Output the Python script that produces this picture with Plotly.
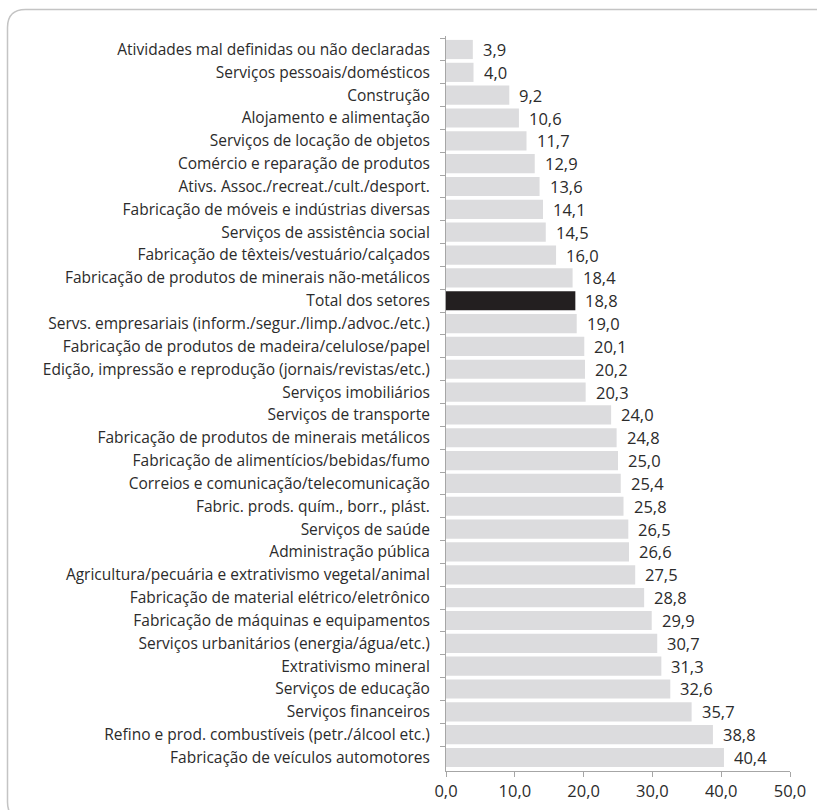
import plotly.graph_objects as go

# Setores de atividade (de cima para baixo) e respectivos valores (%)
setores = [
    "Atividades mal definidas ou não declaradas",
    "Serviços pessoais/domésticos",
    "Construção",
    "Alojamento e alimentação",
    "Serviços de locação de objetos",
    "Comércio e reparação de produtos",
    "Ativs. Assoc./recreat./cult./desport.",
    "Fabricação de móveis e indústrias diversas",
    "Serviços de assistência social",
    "Fabricação de têxteis/vestuário/calçados",
    "Fabricação de produtos de minerais não-metálicos",
    "Total dos setores",
    "Servs. empresariais (inform./segur./limp./advoc./etc.)",
    "Fabricação de produtos de madeira/celulose/papel",
    "Edição, impressão e reprodução (jornais/revistas/etc.)",
    "Serviços imobiliários",
    "Serviços de transporte",
    "Fabricação de produtos de minerais metálicos",
    "Fabricação de alimentícios/bebidas/fumo",
    "Correios e comunicação/telecomunicação",
    "Fabric. prods. quím., borr., plást.",
    "Serviços de saúde",
    "Administração pública",
    "Agricultura/pecuária e extrativismo vegetal/animal",
    "Fabricação de material elétrico/eletrônico",
    "Fabricação de máquinas e equipamentos",
    "Serviços urbanitários (energia/água/etc.)",
    "Extrativismo mineral",
    "Serviços de educação",
    "Serviços financeiros",
    "Refino e prod. combustíveis (petr./álcool etc.)",
    "Fabricação de veículos automotores",
]
valores = [
    3.9, 4.0, 9.2, 10.6, 11.7, 12.9, 13.6, 14.1, 14.5, 16.0, 18.4, 18.8,
    19.0, 20.1, 20.2, 20.3, 24.0, 24.8, 25.0, 25.4, 25.8, 26.5, 26.6, 27.5,
    28.8, 29.9, 30.7, 31.3, 32.6, 35.7, 38.8, 40.4,
]
destaque = "Total dos setores"

x_ticks = [0, 10, 20, 30, 40, 50]

FONT = "Open Sans, Noto Sans, sans-serif"
TXT = "#2b2b2b"
AXIS = "#a6a6a6"
CAT_SIZE = 15.5
NUM_SIZE = 16.5

W, H = 817, 810
ML, MR, MT, MB = 446, 27, 36, 39

cores = ["#231f20" if s == destaque else "#dcdcde" for s in setores]

fig = go.Figure()
fig.add_trace(go.Bar(
    x=valores,
    y=setores,
    orientation="h",
    marker=dict(color=cores, line=dict(width=0)),
    hoverinfo="x+y",
))

# Rótulos de valor à direita de cada barra
for s, v in zip(setores, valores):
    fig.add_annotation(
        x=v, y=s, xref="x", yref="y",
        text=f"{v:.1f}".replace(".", ","),
        showarrow=False, xanchor="left", yanchor="middle",
        xshift=8, font=dict(family=FONT, size=NUM_SIZE, color=TXT),
    )

# Moldura arredondada em volta do gráfico (coordenadas em pixels -> paper)
pw, ph = W - ML - MR, H - MT - MB


def px(xp):
    return (xp - ML) / pw


def py(yp):
    return (H - MB - yp) / ph


left, top, right, bottom, r = 7.5, 9.5, 836, 820, 18
path = (
    f"M {px(left)},{py(bottom - r)} "
    f"L {px(left)},{py(top + r)} "
    f"Q {px(left)},{py(top)} {px(left + r)},{py(top)} "
    f"L {px(right - r)},{py(top)} "
    f"Q {px(right)},{py(top)} {px(right)},{py(top + r)} "
    f"L {px(right)},{py(bottom - r)} "
    f"Q {px(right)},{py(bottom)} {px(right - r)},{py(bottom)} "
    f"L {px(left + r)},{py(bottom)} "
    f"Q {px(left)},{py(bottom)} {px(left)},{py(bottom - r)} Z"
)
fig.add_shape(type="path", path=path, xref="paper", yref="paper",
              line=dict(color="#c4c4c4", width=1.5), layer="below")

fig.update_layout(
    width=W, height=H,
    margin=dict(l=ML, r=MR, t=MT, b=MB, pad=0),
    paper_bgcolor="white", plot_bgcolor="white",
    separators=",.",
    bargap=0.16,
    showlegend=False,
    font=dict(family=FONT, size=CAT_SIZE, color=TXT),
)
fig.update_xaxes(
    range=[0, 50], tickvals=x_ticks, tickformat=".1f",
    showgrid=False, zeroline=False, automargin=False,
    showline=True, linecolor=AXIS, linewidth=1,
    ticks="outside", ticklen=5, tickcolor=AXIS,
    tickfont=dict(family=FONT, size=NUM_SIZE, color=TXT),
    fixedrange=True,
)
fig.update_yaxes(
    autorange="reversed",
    showgrid=False, zeroline=False, automargin=False,
    showline=True, linecolor=AXIS, linewidth=1,
    ticks="outside", ticklen=5, tickcolor=AXIS, tickson="boundaries",
    ticklabelstandoff=12,
    tickfont=dict(family=FONT, size=CAT_SIZE, color=TXT),
    fixedrange=True,
)

fig.write_html("out.html")
